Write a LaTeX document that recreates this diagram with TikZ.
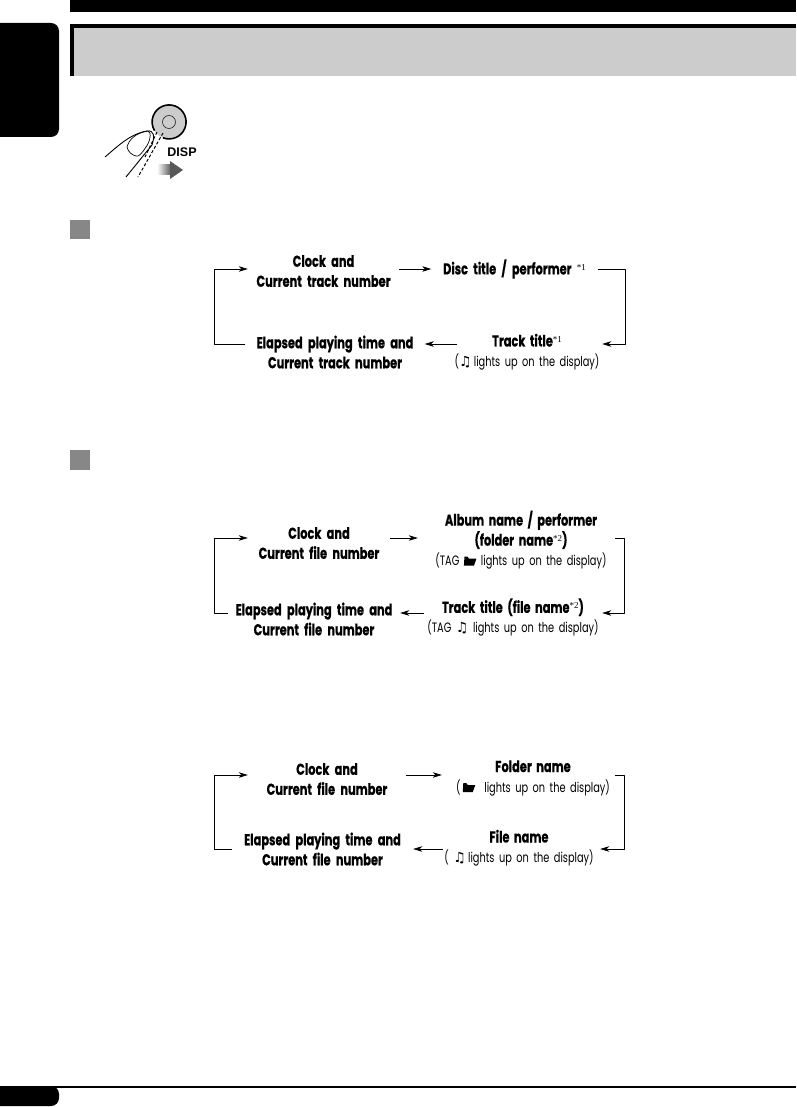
\documentclass[tikz,border=0pt]{standalone}
\usepackage{fontspec}
\setmainfont{Poppins}[FakeStretch=0.72,BoldFeatures={FakeBold=0.5}]
\newfontfamily\notefont{Liberation Serif}
\newfontfamily\symfont{DejaVu Sans}
\newfontfamily\dispfont{Liberation Sans}
\usetikzlibrary{arrows.meta,calc}

\newcommand{\starnote}[1]{{\notefont\mdseries\fontsize{9}{9}\selectfont\raisebox{4pt}{*#1}}}
\newcommand{\noteicon}{{\symfont\bfseries\fontsize{14}{14}\selectfont ♫}}
\newcommand{\foldericon}{\tikz[baseline=0pt,x=1pt,y=1pt]{\fill (0,0) -- (10,0) -- (12.5,7) -- (5,7) -- (3.5,9) -- (0.5,9) -- cycle;}}
\newcommand{\headtext}[1]{\textbf{\fontsize{15.8}{20}\selectfont #1}}

\tikzset{
    flow/.style={-{Stealth[length=9pt,width=5.5pt,inset=2.5pt]},line width=0.7pt},
    bold/.style={font=\bfseries\fontsize{15.8}{20}\selectfont,inner sep=0pt,align=center},
    mixed/.style={font=\fontsize{13.6}{20}\selectfont,inner sep=0pt,align=center}
}

\begin{document}
\begin{tikzpicture}[x=1pt,y=-1pt,line join=round]

\useasboundingbox (0,0) rectangle (796,1107);

% Page furniture
\fill (70,0) rectangle (796,12);
\fill (70,24) rectangle (796,76);
\fill[black!20] (74,28) rectangle (796,76);
\fill[rounded corners=8pt] (-12,23) rectangle (59,137);
\fill[black!47] (70,220) rectangle (90,239);
\fill[black!47] (70,450) rectangle (90,470);
\draw[line width=2pt] (0,1086.7) -- (796,1086.7);
\fill[rounded corners=8pt] (-12,1086) rectangle (59,1106);

% Button and finger
\fill[black!20] (169,122) circle (17);
\draw[line width=1.6pt] (163,137.8) arc[start angle=111,end angle=-211,radius=17];
\draw[line width=0.5pt] (169,122) circle (6.5);
\draw[line width=0.9pt] (105,157) .. controls (118,146) and (130,134) .. (147,131)
    .. controls (154,130) and (155,136) .. (152,145) -- (126,177);
\draw[line width=0.7pt] (127,147) .. controls (129,140) and (135,133) .. (148,131)
    .. controls (152,132) and (150,142) .. (146,147) .. controls (142,153) and (139,157) .. (136,156)
    .. controls (132,155) and (128,152) .. (127,147);
\draw[line width=1pt,dashed,dash pattern=on 3pt off 2pt] (163,133) -- (138,177);
\draw[line width=1pt,dashed,dash pattern=on 3pt off 2pt] (157,132) -- (145,157);
\node[font=\dispfont\bfseries\fontsize{12.5}{12.5}\selectfont,inner sep=0pt] (disp) at (182,152) {DISP};
\shade[left color=white,right color=black!65] (157,165) rectangle (171,175);
\fill[black!65] (170,161) -- (183,170) -- (170,179) -- cycle;

% First cycle
\node[bold,text width=151] (clockA) at (323.5,271) {Clock and\\Current track number};
\node[bold,text width=166] (discA) at (514.5,269) {Disc title / performer \starnote{1}};
\node[bold,text width=179] (elapsedA) at (335,352) {Elapsed playing time and\\Current track number};
\node[mixed,text width=150] (trackA) at (527,352) {\headtext{Track title}\starnote{1}\\(\noteicon\,lights up on the display)};

\coordinate (trA) at (625,269);
\coordinate (brA) at (625,344);
\coordinate (blA) at (214,344);
\coordinate (tlA) at (214,269);

\draw[flow] (clockA.east |- trA) -- (discA.west |- trA);
\draw[flow] (discA.east |- trA) -- (trA) -- (brA) -- (trackA.east |- brA);
\draw[flow,shorten <=-5pt] (trackA.west |- brA) -- (elapsedA.east |- brA);
\draw[flow] (elapsedA.west |- brA) -- (blA) -- (tlA) -- (clockA.west |- tlA);

% Second cycle
\node[bold,text width=142] (clockB) at (319,543) {Clock and\\Current file number};
\node[mixed,text width=172] (albumB) at (521,540) {\headtext{Album name / performer}\\\headtext{(folder name}\starnote{2}\headtext{)}\\(TAG \foldericon\ lights up on the display)};
\node[bold,text width=172] (elapsedB) at (314,619) {Elapsed playing time and\\Current file number};
\node[mixed,text width=178] (trackB) at (513,617.5) {\headtext{Track title (file name}\starnote{2}\headtext{)}\\(TAG \noteicon\ lights up on the display)};

\coordinate (trB) at (624,538);
\coordinate (brB) at (624,613);
\coordinate (blB) at (214,613);
\coordinate (tlB) at (214,538);

\draw[flow,shorten >=17pt] (clockB.east |- trB) -- (albumB.west |- trB);
\draw[flow,shorten <=8pt] (albumB.east |- trB) -- (trB) -- (brB) -- (trackB.east |- brB);
\draw[flow] (trackB.west |- brB) -- (elapsedB.east |- brB);
\draw[flow] (elapsedB.west |- brB) -- (blB) -- (tlB) -- (clockB.west |- tlB);

% Third cycle
\node[bold,text width=158] (clockC) at (327,779) {Clock and\\Current file number};
\node[mixed,text width=160] (folderC) at (533,778) {\headtext{Folder name}\\(\,\foldericon\ \ lights up on the display)};
\node[bold,text width=181] (elapsedC) at (322.5,849) {Elapsed playing time and\\Current file number};
\node[mixed,text width=162] (fileC) at (519,848) {\headtext{File name}\\(\ \noteicon\,lights up on the display)};

\coordinate (trC) at (624,775);
\coordinate (brC) at (624,849);
\coordinate (blC) at (214,849);
\coordinate (tlC) at (214,775);

\draw[flow,shorten >=11pt] (clockC.east |- trC) -- (folderC.west |- trC);
\draw[flow,shorten <=2pt] (folderC.east |- trC) -- (trC) -- (brC) -- (fileC.east |- brC);
\draw[flow,shorten <=-5pt] (fileC.west |- brC) -- (elapsedC.east |- brC);
\draw[flow] (elapsedC.west |- brC) -- (blC) -- (tlC) -- (clockC.west |- tlC);

\end{tikzpicture}
\end{document}
